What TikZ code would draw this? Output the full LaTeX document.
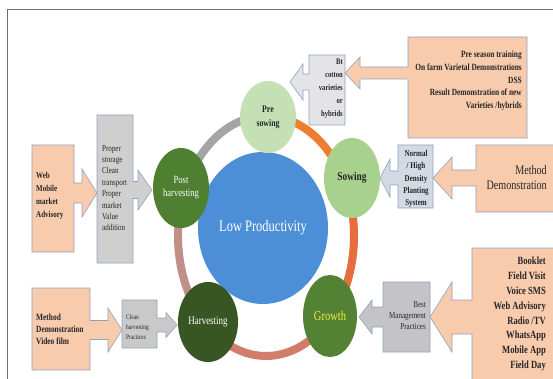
\documentclass[tikz,border=0pt]{standalone}
\usepackage{fontspec}
\setmainfont{Liberation Serif}
\newfontfamily\nf[FakeStretch=0.78]{Liberation Serif}
\usetikzlibrary{shapes.geometric}
\definecolor{peach}{HTML}{F8CBAD}
\definecolor{edgeblue}{HTML}{8EA3BF}
\definecolor{gA}{HTML}{E4E4E6}
\definecolor{gB}{HTML}{D4DAE3}
\definecolor{gC}{HTML}{C4C4C6}
\definecolor{gD}{HTML}{CFCFCF}
\definecolor{gE}{HTML}{C9C9C9}
\definecolor{txtdark}{HTML}{262626}
\definecolor{lpblue}{HTML}{4D8FD6}
\definecolor{cPre}{HTML}{C5E0B4}
\definecolor{cSow}{HTML}{A9D18E}
\definecolor{cGro}{HTML}{548235}
\definecolor{cHar}{HTML}{375623}
\definecolor{cPost}{HTML}{4F7F30}
\definecolor{rGray}{HTML}{A5A5A5}
\definecolor{rOrange}{HTML}{ED7D31}
\definecolor{rRight}{HTML}{E46C3E}
\definecolor{rBottom}{HTML}{D27D69}
\definecolor{rLeft}{HTML}{C09088}
\definecolor{framegray}{HTML}{6F6F6F}
\definecolor{growyellow}{HTML}{F0F040}
% left-pointing callout: style, x1,y1,x2,y2, tip x, centre y, head-base x, head half-height
\newcommand\calloutL[9]{\path[#1] (#2,#3) -- (#4,#3) -- (#4,#5) -- (#2,#5) -- (#2,#7+\shaftw) -- (#8,#7+\shaftw) -- (#8,#7+#9) -- (#6,#7) -- (#8,#7-#9) -- (#8,#7-\shaftw) -- (#2,#7-\shaftw) -- cycle;}
% right-pointing callout
\newcommand\calloutR[9]{\path[#1] (#4,#3) -- (#2,#3) -- (#2,#5) -- (#4,#5) -- (#4,#7+\shaftw) -- (#8,#7+\shaftw) -- (#8,#7+#9) -- (#6,#7) -- (#8,#7-#9) -- (#8,#7-\shaftw) -- (#4,#7-\shaftw) -- cycle;}
\tikzset{
  shaft/.store in=\shaftw, shaft=7,
  peachbox/.style={fill=peach, draw=edgeblue, line width=0.6},
  greybox/.style={fill=#1, draw=edgeblue, line width=0.6},
  txt/.style={inner sep=0, text=txtdark},
  stage/.style={ellipse, inner sep=0, fill=#1},
  ringseg/.style={line width=8, draw=#1},
}
\begin{document}
\begin{tikzpicture}[x=1pt,y=-1pt]
\useasboundingbox (0,0) rectangle (553,379);
\fill[white] (0,0) rectangle (553,379);
\draw[framegray, line width=1] (7,379) -- (7,10) -- (553,10);

% ring segments
\coordinate (rc) at (266,236);
\draw[ringseg=rGray]   (rc) ++(202.5:88 and 120) arc[start angle=202.5, end angle=270, x radius=88, y radius=120];
\draw[ringseg=rOrange] (rc) ++(270:88 and 120) arc[start angle=270, end angle=334, x radius=88, y radius=120];
\draw[ringseg=rRight]  (rc) ++(-26:88 and 120) arc[start angle=-26, end angle=42.5, x radius=88, y radius=120];
\draw[ringseg=rBottom] (rc) ++(42.5:88 and 120) arc[start angle=42.5, end angle=132.6, x radius=88, y radius=120];
\draw[ringseg=rLeft]   (rc) ++(132.6:88 and 120) arc[start angle=132.6, end angle=202.5, x radius=88, y radius=120];

% centre
\node[ellipse, fill=lpblue, minimum width=130, minimum height=152, inner sep=0, text=white, font=\nf\fontsize{16}{18}\selectfont] (low) at (263,228) {Low Productivity};

% stages
\node[stage=cPre, minimum width=56, minimum height=72, align=center, text=txtdark, font=\nf\bfseries\fontsize{10}{14}\selectfont] (pre) at (268,117) {Pre\\sowing};
\node[stage=cSow, minimum width=56, minimum height=80, text=txtdark, font=\nf\bfseries\fontsize{12}{14}\selectfont] (sow) at (352,178) {Sowing};
\node[stage=cGro, minimum width=54, minimum height=82, text=growyellow, font=\nf\fontsize{13.5}{15}\selectfont] (gro) at (330,316) {Growth};
\node[stage=cHar, minimum width=60, minimum height=80, text=white, font=\nf\fontsize{11.5}{14}\selectfont] (har) at (208,322) {Harvesting};
\node[stage=cPost, minimum width=56, minimum height=80, align=center, text=white, font=\nf\fontsize{11}{13}\selectfont] (post) at (181,188) {Post\\harvesting};

% right side callouts
\calloutL{greybox=gA, shaft=8}{309}{55}{345}{125}{290}{82}{303}{18}
\calloutL{peachbox, shaft=6}{408}{37}{527}{138}{345}{73}{360}{16}
\calloutL{greybox=gB, shaft=7}{398}{145}{433}{208}{380}{178}{390}{19}
\calloutL{peachbox, shaft=8}{476}{145}{554}{212}{433}{178}{452}{21}
\calloutL{greybox=gC, shaft=10}{383}{282}{430}{352}{359}{317}{372}{17}
\calloutL{peachbox, shaft=17}{472}{248}{554}{381}{430}{317}{452}{35}

% left side callouts
\calloutR{peachbox, shaft=10}{32}{145}{74}{252}{97}{193}{82}{24}
\calloutR{greybox=gD, shaft=8.5}{97}{115}{133}{263}{152}{190}{138}{20}
\calloutR{peachbox, shaft=9.5}{32}{288}{90}{370}{122}{330}{108}{22}
\calloutR{greybox=gE, shaft=7}{122}{300}{157}{348}{177}{325}{166}{12.5}

% texts
\node[txt, anchor=east, align=right, font=\nf\bfseries\fontsize{8.5}{13}\selectfont] (bt) at (343,89) {Bt\\cotton\\varieties\\or\\hybrids};
\node[txt, anchor=east, align=right, font=\nf\bfseries\fontsize{9.5}{12.7}\selectfont] (pst) at (522,81) {Pre season training\\On farm Varietal Demonstrations\\DSS\\Result Demonstration of new\\Varieties /hybrids};
\node[txt, align=center, font=\nf\bfseries\fontsize{9}{12.3}\selectfont] (nhd) at (416,179) {Normal\\/ High\\Density\\Planting\\System};
\node[txt, anchor=east, align=right, font=\nf\fontsize{13}{15}\selectfont] (md) at (547,178) {Method\\Demonstration};
\node[txt, anchor=east, align=right, font=\nf\fontsize{9}{11}\selectfont] (bmp) at (426,316) {Best\\Management\\Practices};
\node[txt, anchor=east, align=right, font=\nf\bfseries\fontsize{11}{14.8}\selectfont] (ict) at (546,314) {Booklet\\Field Visit\\Voice SMS\\Web Advisory\\Radio /TV\\WhatsApp\\Mobile App\\Field Day};
\node[txt, anchor=west, align=left, font=\nf\bfseries\fontsize{9}{13}\selectfont] (web) at (36,196) {Web\\Mobile\\market\\Advisory};
\node[txt, anchor=west, align=left, font=\nf\fontsize{9}{11.4}\selectfont] (pro) at (102,188) {Proper\\storage\\Clean\\transport\\Proper\\market\\Value\\addition};
\node[txt, anchor=west, align=left, font=\nf\bfseries\fontsize{9.5}{12}\selectfont] (mdv) at (36,329) {Method\\Demonstration\\Video film};
\node[txt, anchor=west, align=left, font=\nf\fontsize{7}{10}\selectfont] (chp) at (126,327) {Clean\\harvesting\\Practices};
\end{tikzpicture}
\end{document}
